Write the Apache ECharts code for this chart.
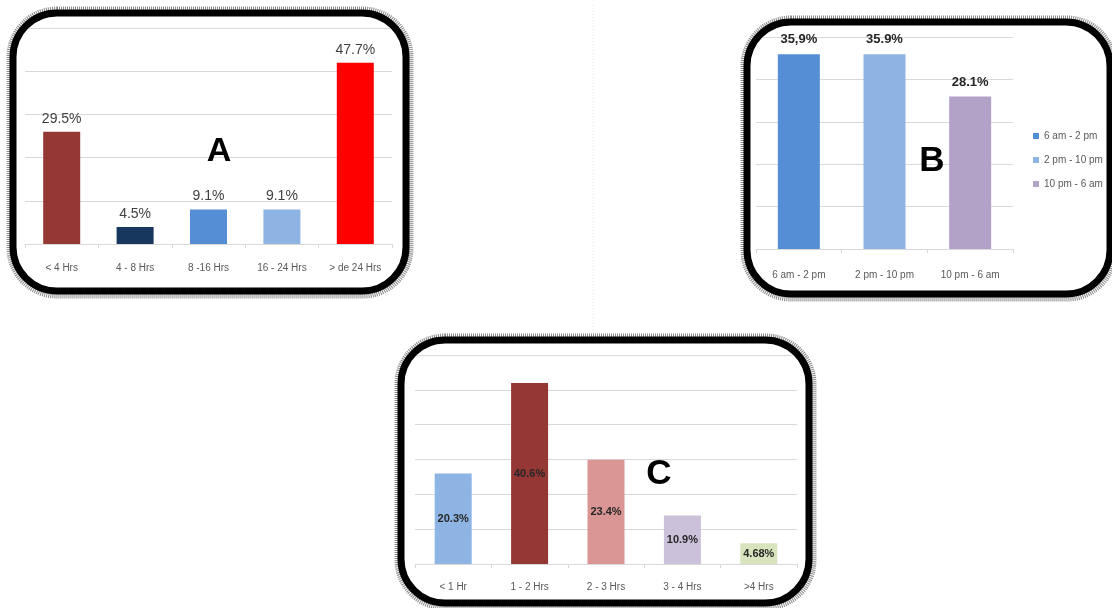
<!DOCTYPE html>
<html><head><meta charset="utf-8">
<style>html,body{margin:0;padding:0;background:#fff;}#c{width:1112px;height:608px;}</style>
<script src="https://cdn.jsdelivr.net/npm/echarts@6/dist/echarts.min.js"></script>
</head><body><div id="c"></div>
<script>
// Panel A
const catsA = ['< 4 Hrs', '4 - 8 Hrs', '8 -16 Hrs', '16 - 24 Hrs', '> de 24 Hrs'];
const valsA = [29.5, 4.5, 9.1, 9.1, 47.7];
const colorsA = ['#953735', '#17375e', '#558ed5', '#8eb4e3', '#ff0000'];
// Panel B
const catsB = ['6 am - 2 pm', '2 pm - 10 pm', '10 pm - 6 am'];
const valsB = [35.9, 35.9, 28.1];
const labelsB = ['35,9%', '35.9%', '28.1%'];
const colorsB = ['#558ed5', '#8eb4e3', '#b3a2c7'];
// Panel C
const catsC = ['< 1 Hr', '1 - 2 Hrs', '2 - 3 Hrs', '3 - 4 Hrs', '>4 Hrs'];
const valsC = [20.3, 40.6, 23.4, 10.9, 4.68];
const labelsC = ['20.3%', '40.6%', '23.4%', '10.9%', '4.68%'];
const colorsC = ['#8eb4e3', '#953735', '#da9694', '#ccc1da', '#d7e4bd'];

const FONT = '"Liberation Sans", Arial, sans-serif';
const grid = '#d9d9d9';
function xAx(idx, cats, margin) {
  return {
    type: 'category', gridIndex: idx, data: cats,
    axisLine: { lineStyle: { color: grid } },
    axisTick: { show: true, length: 4, lineStyle: { color: grid } },
    axisLabel: { color: '#595959', fontSize: 10, fontFamily: FONT, margin: margin, interval: 0 }
  };
}
function yAx(idx, max, interval) {
  return {
    type: 'value', gridIndex: idx, min: 0, max: max, interval: interval,
    axisLabel: { show: false }, axisLine: { show: false }, axisTick: { show: false },
    splitLine: { lineStyle: { color: grid, width: 1 } }
  };
}
const chart = echarts.init(document.getElementById('c'));
const bSeries = catsB.map((name, i) => ({
  type: 'bar', name: name, xAxisIndex: 1, yAxisIndex: 1, stack: 'b', barWidth: 42,
  itemStyle: { color: colorsB[i] },
  data: catsB.map((c, j) => j === i ? valsB[j] : '-'),
  label: { show: true, position: 'top', distance: 8, color: '#262626', fontWeight: 'bold', fontSize: 13, fontFamily: FONT,
    formatter: p => labelsB[p.dataIndex] }
}));
function roundBox(x, y, w, h) {
  return [
    { type: 'rect', z: 90, shape: { x: x - 3, y: y - 3, width: w + 7, height: h + 7, r: 47 },
      style: { fill: 'none', stroke: '#8a8a8a', lineWidth: 7, lineDash: [1, 1] } },
    { type: 'rect', z: 91, shape: { x: x, y: y, width: w, height: h, r: 44 },
      style: { fill: 'none', stroke: '#000', lineWidth: 7 } }
  ];
}
chart.setOption({
  animation: false,
  textStyle: { fontFamily: FONT },
  grid: [
    { left: 25, top: 28, width: 367, height: 216 },
    { left: 756, top: 37, width: 257, height: 212 },
    { left: 415, top: 355, width: 382, height: 209 }
  ],
  xAxis: [xAx(0, catsA, 19), xAx(1, catsB, 21), xAx(2, catsC, 18)],
  yAxis: [yAx(0, 56.818, 11.3636), yAx(1, 39.0625, 7.8125), yAx(2, 46.875, 7.8125)],
  legend: {
    orient: 'vertical', left: 1028, top: 126, itemWidth: 6, itemHeight: 6, itemGap: 14,
    icon: 'rect', data: catsB,
    textStyle: { color: '#595959', fontSize: 10, fontFamily: FONT }
  },
  series: [
    { type: 'bar', xAxisIndex: 0, yAxisIndex: 0, barWidth: 37,
      data: valsA.map((v, i) => ({ value: v, itemStyle: { color: colorsA[i] } })),
      label: { show: true, position: 'top', distance: 6, color: '#404040', fontSize: 14, fontFamily: FONT,
        formatter: p => p.value + '%' } },
    ...bSeries,
    { type: 'bar', xAxisIndex: 2, yAxisIndex: 2, barWidth: 37,
      data: valsC.map((v, i) => ({ value: v, itemStyle: { color: colorsC[i] } })),
      label: { show: true, position: 'inside', color: '#262626', fontWeight: 'bold', fontSize: 11, fontFamily: FONT,
        formatter: p => labelsC[p.dataIndex] } }
  ],
  graphic: [
    { type: 'line', z: 1, shape: { x1: 593, y1: 5, x2: 593, y2: 333 },
      style: { stroke: '#e6e6ee', lineWidth: 1, lineDash: [1, 2] } },
    ...roundBox(13, 13, 393, 278),
    ...roundBox(747, 22, 363, 272),
    ...roundBox(401, 340, 408, 263),
    { type: 'text', z: 95, x: 219, y: 152, style: { text: 'A', font: 'bold 34px ' + FONT, fill: '#000', align: 'center', verticalAlign: 'middle' } },
    { type: 'text', z: 95, x: 932, y: 161, style: { text: 'B', font: 'bold 35px ' + FONT, fill: '#000', align: 'center', verticalAlign: 'middle' } },
    { type: 'text', z: 95, x: 659, y: 474, style: { text: 'C', font: 'bold 35px ' + FONT, fill: '#000', align: 'center', verticalAlign: 'middle' } }
  ]
});
</script></body></html>
